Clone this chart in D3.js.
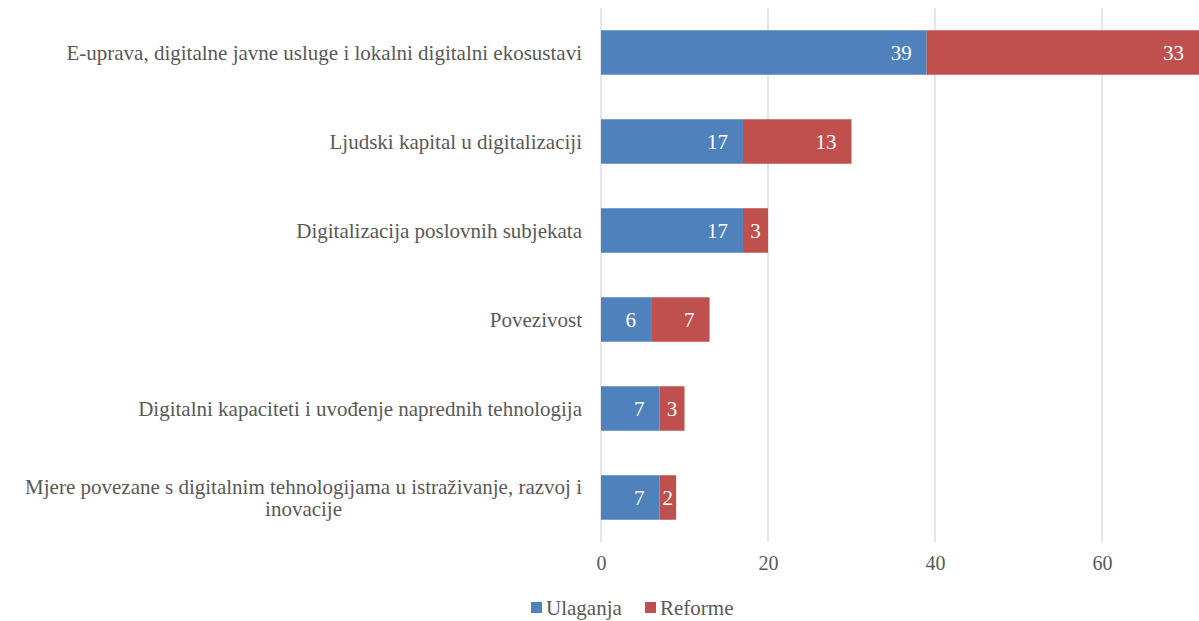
<!DOCTYPE html>
<html>
<head>
<meta charset="utf-8">
<script src="https://cdn.jsdelivr.net/npm/d3@7"></script>
<style>
  body { margin: 0; background: #fff; overflow: hidden; }
  svg text { font-family: "Liberation Serif", "Times New Roman", Times, serif !important; }
</style>
</head>
<body>
<div id="chart"></div>
<script>
// data
var categories = [
  "E-uprava, digitalne javne usluge i lokalni digitalni ekosustavi",
  "Ljudski kapital u digitalizaciji",
  "Digitalizacija poslovnih subjekata",
  "Povezivost",
  "Digitalni kapaciteti i uvođenje naprednih tehnologija",
  "Mjere povezane s digitalnim tehnologijama u istraživanje, razvoj i inovacije"
];
var ulaganja = [39, 17, 17, 6, 7, 7];
var reforme = [33, 13, 3, 7, 3, 2];
var seriesNames = ["Ulaganja", "Reforme"];
var xTicks = [0, 20, 40, 60];

var W = 1199, H = 621;
var colors = ["#4F81BD", "#C0504D"];
var FONT = "'Liberation Serif', 'Times New Roman', serif";

var svg = d3.select("#chart").append("svg")
  .attr("width", W)
  .attr("height", H)
  .attr("font-family", FONT);

// x scale: 0 at 601, each 20 units ~167px (chart is cut off at the right)
var x = d3.scaleLinear()
  .domain([0, 80])
  .range([601, 1269]);

var y = d3.scaleBand()
  .domain(categories)
  .range([8, 542])
  .paddingInner(0.5)
  .paddingOuter(0.25);

// gridlines
svg.append("g")
  .selectAll("line")
  .data(xTicks)
  .enter().append("line")
    .attr("x1", function(d){ return x(d) })
    .attr("x2", function(d){ return x(d) })
    .attr("y1", 8)
    .attr("y2", 542)
    .attr("stroke", "#d9d9d9")
    .attr("stroke-width", 1.3);

// x axis labels
var xAxis = svg.append("g")
  .attr("transform", "translate(0,542)")
  .call(d3.axisBottom(x).tickValues(xTicks).tickSize(0).tickPadding(14));
xAxis.attr("font-family", FONT).attr("font-size", null);
xAxis.select(".domain").remove();
xAxis.selectAll("text")
  .style("font-size", "20px")
  .attr("fill", "#595959");

// stacked data
var rows = categories.map(function(c, i){ return {cat: c, Ulaganja: ulaganja[i], Reforme: reforme[i]}; });
var stacked = d3.stack().keys(seriesNames)(rows);

var layers = svg.append("g")
  .selectAll("g")
  .data(stacked)
  .enter().append("g")
    .attr("fill", function(d, i){ return colors[i] });

layers.selectAll("rect")
  .data(function(d){ return d })
  .enter().append("rect")
    .attr("x", function(d){ return x(d[0]) })
    .attr("y", function(d){ return y(d.data.cat) })
    .attr("width", function(d){ return x(d[1]) - x(d[0]) })
    .attr("height", y.bandwidth());

// value labels
layers.selectAll("text")
  .data(function(d){ return d })
  .enter().append("text")
    .text(function(d){ return d[1] - d[0] })
    .attr("fill", "#fff")
    .style("font-size", "21px")
    .attr("y", function(d){ return y(d.data.cat) + y.bandwidth() / 2 })
    .attr("dy", "0.35em")
    .each(function(d){
      var t = d3.select(this);
      var w = this.getComputedTextLength();
      var x0 = x(d[0]), x1 = x(d[1]);
      if (x1 > W) x1 = W;
      if (x1 - x0 > w + 30) {
        t.attr("x", x1 - 15).attr("text-anchor", "end");
      } else {
        t.attr("x", (x0 + x1) / 2).attr("text-anchor", "middle");
      }
    });

// category labels, wrapped and centred within a right-aligned block
var labelRight = 582, maxW = 578;
svg.append("g")
  .selectAll("text")
  .data(categories)
  .enter().append("text")
    .attr("fill", "#595959")
    .style("font-size", "21px")
    .each(function(c){
      var t = d3.select(this);
      var words = c.split(" ");
      var lines = [], cur = [];
      var probe = t.append("tspan");
      words.forEach(function(w){
        var test = cur.concat([w]).join(" ");
        probe.text(test);
        if (probe.node().getComputedTextLength() > maxW && cur.length) {
          lines.push(cur.join(" "));
          cur = [w];
        } else {
          cur.push(w);
        }
      });
      lines.push(cur.join(" "));
      var widths = lines.map(function(l){ probe.text(l); return probe.node().getComputedTextLength(); });
      probe.remove();
      var bw = d3.max(widths);
      var cx = labelRight - bw / 2;
      var lh = 22;
      var cy = y(c) + y.bandwidth() / 2 - (lines.length - 1) * lh / 2;
      t.attr("text-anchor", "middle");
      lines.forEach(function(l, i){
        t.append("tspan")
          .attr("x", cx)
          .attr("y", cy + i * lh)
          .attr("dy", "0.35em")
          .text(l);
      });
    });

// legend
var legend = svg.append("g");
var lx = [531, 645];
seriesNames.forEach(function(s, i){
  legend.append("rect")
    .attr("x", lx[i])
    .attr("y", 602)
    .attr("width", 11)
    .attr("height", 11)
    .attr("fill", colors[i]);
  legend.append("text")
    .attr("x", lx[i] + 15)
    .attr("y", 608)
    .attr("dy", "0.35em")
    .attr("fill", "#595959")
    .style("font-size", "21px")
    .text(s);
});
</script>
</body>
</html>
